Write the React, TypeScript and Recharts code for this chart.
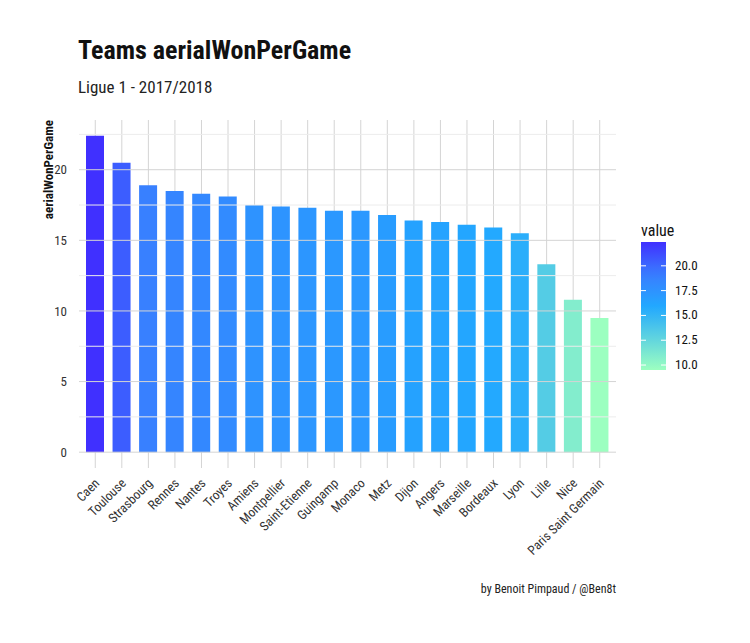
import { BarChart, Bar, XAxis, YAxis, CartesianGrid, ReferenceLine, Cell } from "recharts";

const teams = [
  "Caen", "Toulouse", "Strasbourg", "Rennes", "Nantes", "Troyes", "Amiens",
  "Montpellier", "Saint-Etienne", "Guingamp", "Monaco", "Metz", "Dijon",
  "Angers", "Marseille", "Bordeaux", "Lyon", "Lille", "Nice", "Paris Saint Germain",
];
const aerialWon = [
  22.4, 20.5, 18.9, 18.5, 18.3, 18.1, 17.5, 17.4, 17.3, 17.1, 17.1, 16.8,
  16.4, 16.3, 16.1, 15.9, 15.5, 13.3, 10.8, 9.5,
];
const yTicks = [0, 5, 10, 15, 20];
const yMinor = [2.5, 7.5, 12.5, 17.5, 22.5];
const legendTicks = [10, 12.5, 15, 17.5, 20];

const FONT = "'Roboto Condensed', 'Liberation Sans Narrow', 'DejaVu Sans Condensed', Roboto, sans-serif";

const vMin = Math.min(...aerialWon);
const vMax = Math.max(...aerialWon);
const stops: [number, string][] = [
  [0, "#9cffc0"],
  [0.5, "#22a8ff"],
  [0.75, "#3a7cff"],
  [1, "#4030ff"],
];

function hex(c: string) {
  return [1, 3, 5].map((i) => parseInt(c.slice(i, i + 2), 16));
}

function colorFor(v: number) {
  const t = Math.max(0, Math.min(1, (v - vMin) / (vMax - vMin)));
  for (let i = 1; i < stops.length; i++) {
    if (t <= stops[i][0]) {
      const [t0, c0] = stops[i - 1];
      const [t1, c1] = stops[i];
      const f = (t - t0) / (t1 - t0);
      const a = hex(c0);
      const b = hex(c1);
      const rgb = a.map((x, k) => Math.round(x + (b[k] - x) * f));
      return `rgb(${rgb.join(",")})`;
    }
  }
  return stops[stops.length - 1][1];
}

const data = teams.map((team, i) => ({ team, value: aerialWon[i] }));

function XTick(props: any) {
  const { x, y, payload } = props;
  return (
    <text
      x={x + 5}
      y={y + 8}
      transform={`rotate(-45 ${x + 5} ${y + 8})`}
      textAnchor="end"
      fontSize={13}
      fill="#333"
      fontFamily={FONT}
    >
      {payload.value}
    </text>
  );
}

function YLabel(props: any) {
  const vb = props.viewBox || {};
  const x = 53;
  const y = vb.y ?? 120;
  return (
    <text
      x={x}
      y={y}
      transform={`rotate(-90 ${x} ${y})`}
      textAnchor="end"
      fontSize={13}
      fontWeight="bold"
      fill="#111"
      fontFamily={FONT}
    >
      aerialWonPerGame
    </text>
  );
}

function ColorLegend() {
  const barTop = 242;
  const barH = 128;
  const pxPer = barH / (vMax - vMin);
  const gradStops = Array.from({ length: 11 }, (_, i) => i / 10);
  return (
    <svg width={100} height={160} style={{ position: "absolute", left: 635, top: 222 }}>
      <defs>
        <linearGradient id="lg" x1="0" y1="1" x2="0" y2="0">
          {gradStops.map((s) => (
            <stop key={s} offset={s} stopColor={colorFor(vMin + s * (vMax - vMin))} />
          ))}
        </linearGradient>
      </defs>
      <text x={6} y={14} fontSize={16} fill="#111" fontFamily={FONT}>
        value
      </text>
      <rect x={6} y={barTop - 222} width={25} height={barH} fill="url(#lg)" />
      {legendTicks.map((t) => {
        const yy = barTop - 222 + (vMax - t) * pxPer;
        return (
          <g key={t}>
            <line x1={6} x2={11} y1={yy} y2={yy} stroke="#fff" strokeWidth={1} />
            <line x1={26} x2={31} y1={yy} y2={yy} stroke="#fff" strokeWidth={1} />
            <text x={40} y={yy + 4} fontSize={13} fill="#111" fontFamily={FONT}>
              {t.toFixed(1)}
            </text>
          </g>
        );
      })}
    </svg>
  );
}

export default function App() {
  return (
    <div style={{ position: "relative", width: 750, height: 643, background: "#fff", margin: -8, fontFamily: FONT }}>
      <div style={{ position: "absolute", left: 78, top: 35, fontSize: 26, fontWeight: "bold", color: "#111" }}>
        Teams aerialWonPerGame
      </div>
      <div style={{ position: "absolute", left: 78, top: 77, fontSize: 17, color: "#222" }}>
        Ligue 1 - 2017/2018
      </div>
      <BarChart
        width={750}
        height={643}
        data={data}
        margin={{ top: 120, right: 134, bottom: 55, left: 49 }}
        barSize={18}
        style={{ position: "absolute", left: 0, top: 0 }}
      >
        <CartesianGrid stroke="#d4d4d4" horizontal={false} vertical={true} syncWithTicks />
        {yMinor.map((v) => (
          <ReferenceLine key={"m" + v} y={v} stroke="#ececec" strokeWidth={1} />
        ))}
        {yTicks.map((v) => (
          <ReferenceLine key={"M" + v} y={v} stroke="#d4d4d4" strokeWidth={1} />
        ))}
        <XAxis
          dataKey="team"
          interval={0}
          axisLine={false}
          tickLine={false}
          padding={{ left: 3, right: 3 }}
          tick={<XTick />}
          height={120}
        />
        <YAxis
          domain={[-1.12, 23.52]}
          ticks={yTicks}
          axisLine={false}
          tickLine={false}
          width={30}
          tick={{ fontSize: 13, fill: "#333", fontFamily: FONT }}
          tickMargin={6}
          allowDataOverflow
          label={<YLabel />}
        />
        <Bar dataKey="value" isAnimationActive={false}>
          {data.map((d) => (
            <Cell key={d.team} fill={colorFor(d.value)} />
          ))}
        </Bar>
      </BarChart>
      <ColorLegend />
      <div style={{ position: "absolute", right: 134, top: 582, fontSize: 12, color: "#222" }}>
        by Benoit Pimpaud / @Ben8t
      </div>
    </div>
  );
}
